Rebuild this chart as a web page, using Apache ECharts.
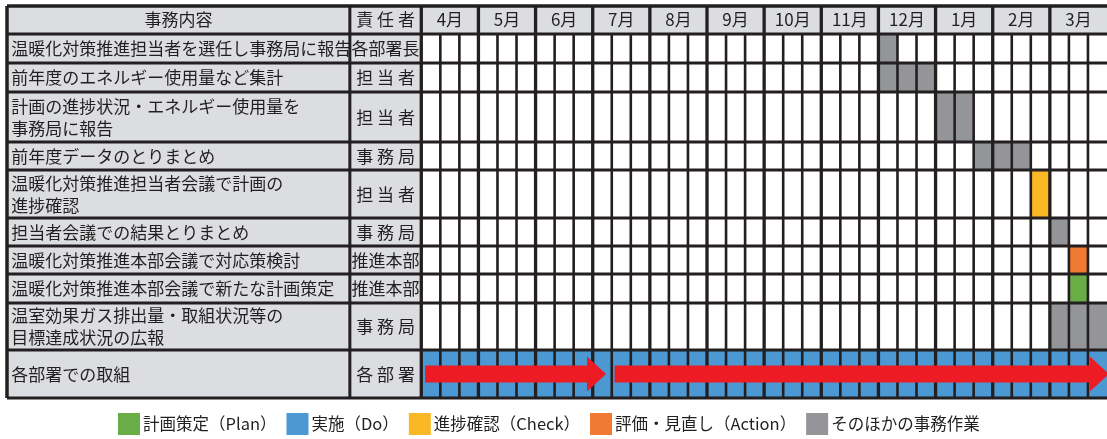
<!DOCTYPE html>
<html><head><meta charset="utf-8">
<script src="https://cdn.jsdelivr.net/npm/echarts@6/dist/echarts.min.js"></script>
<style>html,body{margin:0;padding:0;background:#fff}#c{width:1107px;height:439px}</style>
</head><body><div id="c"></div>
<script>
// ---------- data ----------
const months = ['4月','5月','6月','7月','8月','9月','10月','11月','12月','1月','2月','3月'];
const headerTask = '事務内容';
const headerOwner = '責 任 者';
const tasks = [
  '温暖化対策推進担当者を選任し事務局に報告',
  '前年度のエネルギー使用量など集計',
  '計画の進捗状況・エネルギー使用量を\n事務局に報告',
  '前年度データのとりまとめ',
  '温暖化対策推進担当者会議で計画の\n進捗確認',
  '担当者会議での結果とりまとめ',
  '温暖化対策推進本部会議で対応策検討',
  '温暖化対策推進本部会議で新たな計画策定',
  '温室効果ガス排出量・取組状況等の\n目標達成状況の広報',
  '各部署での取組'
];
const owners = ['各部署長','担 当 者','担 当 者','事 務 局','担 当 者','事 務 局','推進本部','推進本部','事 務 局','各 部 署'];
const typeNames = ['計画策定（Plan）','実施（Do）','進捗確認（Check）','評価・見直し（Action）','そのほかの事務作業'];
// blocks: [task index, first slot (3 slots per month, 0 = early April), number of slots]
const planBlocks   = [[7, 34, 1]];
const doBlocks     = [[9, 0, 36]];
const checkBlocks  = [[4, 32, 1]];
const actionBlocks = [[6, 34, 1]];
const otherBlocks  = [[0, 24, 1], [1, 24, 3], [2, 27, 2], [3, 29, 3], [5, 33, 1], [8, 33, 3]];
// arrows: [task index, start slot, end slot (tip)]
const arrows = [[9, 0.2, 9.7], [9, 10.15, 36.1]];

// ---------- layout / style ----------
const rowH = [28, 29, 29, 50, 28, 48, 28, 28, 29, 47, 48]; // header + task rows
const rowTop = [0];
for (let i = 0; i < rowH.length; i++) rowTop.push(rowTop[i] + rowH[i]);
const X_LEFT = -21.75, X_OWNER = -3.75, X_END = 36;
const INK = '#231f20', PANEL = '#dcdde0';
const colors = ['#6aac46', '#4b98d3', '#fbb825', '#f07a32', '#939598'];
const FONT = '"Noto Sans CJK JP", "Noto Sans", sans-serif';
const FS = 17;

function rectEl(api, x0, x1, y0, y1, fill) {
  const p0 = api.coord([x0, y0]), p1 = api.coord([x1, y1]);
  return { type: 'rect', shape: { x: p0[0], y: p0[1], width: p1[0] - p0[0], height: p1[1] - p0[1] }, style: { fill: fill } };
}
function lineEl(api, x0, y0, x1, y1, w) {
  const p0 = api.coord([x0, y0]), p1 = api.coord([x1, y1]);
  return { type: 'line', shape: { x1: p0[0], y1: p0[1], x2: p1[0], y2: p1[1] }, style: { stroke: INK, lineWidth: w } };
}
function textEl(api, x, y, text, align) {
  const p = api.coord([x, y]);
  return { type: 'text', x: p[0], y: p[1], style: { text: text, fill: INK, fontSize: FS, fontFamily: FONT,
    align: align, textAlign: align, verticalAlign: 'middle', textVerticalAlign: 'middle', lineHeight: 22 } };
}

function renderBackground(params, api) {
  const ch = [];
  for (let r = 0; r < rowH.length; r++) {
    ch.push(rectEl(api, X_LEFT, X_OWNER, rowTop[r], rowTop[r + 1], PANEL));
    ch.push(rectEl(api, X_OWNER, 0, rowTop[r], rowTop[r + 1], PANEL));
    ch.push(rectEl(api, 0, X_END + 1, rowTop[r], rowTop[r + 1], r === 0 ? PANEL : '#ffffff'));
  }
  return { type: 'group', children: ch };
}
function makeBlockRenderer(color) {
  return function (params, api) {
    const t = api.value(0), s = api.value(1), n = api.value(2);
    return rectEl(api, s, s + n, rowTop[t + 1], rowTop[t + 2], color);
  };
}
function renderLines(params, api) {
  const ch = [];
  const yEnd = rowTop[rowTop.length - 1];
  for (let r = 0; r < rowTop.length; r++) ch.push(lineEl(api, X_LEFT, rowTop[r], X_END + 1, rowTop[r], r === 0 ? 3.5 : 3));
  ch.push(lineEl(api, X_LEFT, 0, X_LEFT, yEnd, 3.5));
  ch.push(lineEl(api, X_OWNER, 0, X_OWNER, yEnd, 3));
  for (let k = 0; k < 36; k++) {
    const isMonth = k % 3 === 0;
    ch.push(lineEl(api, k, isMonth ? 0 : rowTop[1], k, yEnd, isMonth ? 3.3 : 2.6));
  }
  return { type: 'group', children: ch };
}
function renderArrow(params, api) {
  const t = api.value(0), s = api.value(1), e = api.value(2);
  const yc = (rowTop[t + 1] + rowTop[t + 2]) / 2;
  const head = 1.0, sh = 8.5, hh = 17.5;
  const pts = [[s, yc - sh], [e - head, yc - sh], [e - head, yc - hh], [e, yc], [e - head, yc + hh], [e - head, yc + sh], [s, yc + sh]]
    .map(function (p) { return api.coord(p); });
  return { type: 'polygon', shape: { points: pts }, style: { fill: '#ed1c24' } };
}
function renderText(params, api) {
  const ch = [];
  ch.push(textEl(api, (X_LEFT + X_OWNER) / 2, rowTop[0] + rowH[0] / 2, headerTask, 'center'));
  ch.push(textEl(api, X_OWNER / 2, rowTop[0] + rowH[0] / 2, headerOwner, 'center'));
  months.forEach(function (m, i) { ch.push(textEl(api, i * 3 + 1.5, rowTop[0] + rowH[0] / 2, m, 'center')); });
  tasks.forEach(function (t, i) {
    const yc = rowTop[i + 1] + rowH[i + 1] / 2;
    ch.push(textEl(api, X_LEFT + 0.22, yc + 0.5, t, 'left'));
    ch.push(textEl(api, X_OWNER / 2, yc + 0.5, owners[i], 'center'));
  });
  return { type: 'group', children: ch };
}

const blockSets = [planBlocks, doBlocks, checkBlocks, actionBlocks, otherBlocks];
const series = [
  { type: 'custom', name: 'bg', z: 1, silent: true, renderItem: renderBackground, data: [[0, 0]] }
];
typeNames.forEach(function (n, i) {
  series.push({ type: 'custom', name: n, z: 2, itemStyle: { color: colors[i] }, renderItem: makeBlockRenderer(colors[i]), data: blockSets[i] });
});
series.push({ type: 'custom', name: 'lines', z: 3, silent: true, renderItem: renderLines, data: [[0, 0]] });
series.push({ type: 'custom', name: 'arrows', z: 4, silent: true, renderItem: renderArrow, data: arrows });
series.push({ type: 'custom', name: 'text', z: 5, silent: true, renderItem: renderText, data: [[0, 0]] });

const chart = echarts.init(document.getElementById('c'));
chart.setOption({
  animation: false,
  color: colors,
  grid: { left: 7, top: 6, width: 1103.5, height: rowTop[rowTop.length - 1] },
  xAxis: { type: 'value', min: X_LEFT, max: X_END, show: false },
  yAxis: { type: 'value', min: 0, max: rowTop[rowTop.length - 1], inverse: true, show: false },
  legend: {
    data: typeNames, left: 118, top: 413, padding: 0, icon: 'rect', itemWidth: 22, itemHeight: 22, itemGap: 10,
    textStyle: { color: INK, fontSize: 16.5, fontFamily: FONT, padding: [0, 0, 0, -2] }, selectedMode: false
  },
  series: series
});
</script></body></html>
